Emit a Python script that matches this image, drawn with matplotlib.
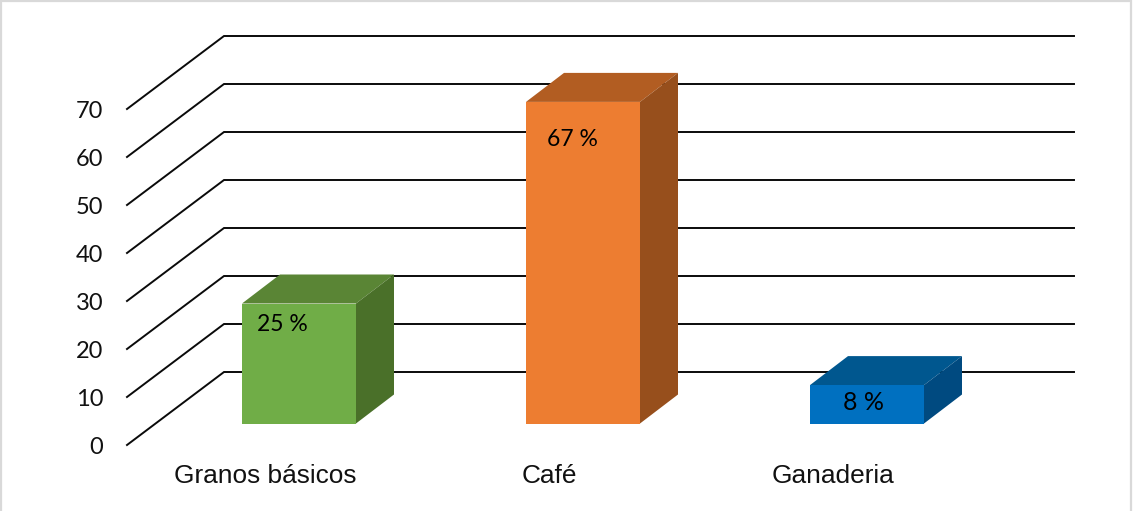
import matplotlib
matplotlib.use('Agg')
import matplotlib.pyplot as plt
from matplotlib.patches import Polygon, Rectangle

# datos
categorias = ['Granos básicos', 'Café', 'Ganaderia']
valores = [25, 67, 8]
etiquetas = ['25 %', '67 %', '8 %']
niveles = [0, 10, 20, 30, 40, 50, 60, 70]

color_frente = ['#70AD47', '#ED7D31', '#0070C0']
color_arriba = ['#5A8535', '#B25D22', '#00578F']
color_lado = ['#4A7029', '#974F1C', '#004A80']

W, H = 1133, 511
fig = plt.figure(figsize=(W / 100, H / 100), dpi=100)

# escala en pixeles de la imagen
x0, x1 = 127, 1074
y0, y_top = 445, 36
px_x = 284        # pixeles por categoria
px_y = 4.8        # pixeles por unidad
cx0 = 299         # centro de la primera barra

ax = fig.add_axes([x0 / W, 1 - y0 / H, (x1 - x0) / W, (y0 - y_top) / H])
ax.set_xlim((x0 - cx0) / px_x, (x1 - cx0) / px_x)
ax.set_ylim(0, (y0 - y_top) / px_y)
for s in ax.spines.values():
    s.set_visible(False)


# desplazamiento oblicuo en pixeles -> datos
def obl(x, v, dx=0, dy=0):
    return x + dx / px_x, v + dy / px_y


# paredes: lineas de nivel
for n in niveles:
    a = obl(ax.get_xlim()[0], n)
    b = obl(ax.get_xlim()[0], n, 97, 73)
    c = (ax.get_xlim()[1], b[1])
    ax.plot([a[0], b[0], c[0]], [a[1], b[1], c[1]], color='#0A0A0A', lw=1.4,
            clip_on=False, zorder=1, solid_joinstyle='miter')

# barras 3D
ancho = 114 / px_x
base = 21.5 / px_y   # la barra no nace en la arista frontal
fondo_x, fondo_y = 38, 29
for i, v in enumerate(valores):
    l, r = i - ancho / 2, i + ancho / 2
    b, t = base, base + v
    ax.add_patch(Polygon([(l, t), (r, t), obl(r, t, fondo_x, fondo_y), obl(l, t, fondo_x, fondo_y)],
                         facecolor=color_arriba[i], edgecolor='none', zorder=2))
    ax.add_patch(Polygon([(r, b), obl(r, b, fondo_x, fondo_y), obl(r, t, fondo_x, fondo_y), (r, t)],
                         facecolor=color_lado[i], edgecolor='none', zorder=2))
    ax.bar(i, v, width=ancho, bottom=base, color=color_frente[i], zorder=3)

# etiquetas de datos
pos_et = [(-17, -21), (-10.5, -38), (-3.5, -17)]
tam_et = [16.5, 16.5, 18]
for i, v in enumerate(valores):
    x, y = obl(i, base + v, *pos_et[i])
    ax.text(x, y, etiquetas[i], ha='center', va='center', fontsize=tam_et[i],
            family='Lato', color='black', zorder=4)

# ejes
ax.set_yticks(niveles)
ax.set_yticklabels(niveles, family='Lato', fontsize=17, color='#111111')
ax.tick_params(axis='y', length=0, pad=17)
ax.set_xticks([i - 34 / px_x for i in range(len(categorias))])
ax.set_xticklabels(categorias, family='Liberation Sans', fontsize=18.9, color='#111111')
ax.tick_params(axis='x', length=0, pad=14)

# borde de la imagen (sin linea abajo)
fig.add_artist(Rectangle((1 / W, -3 / H), (W - 3) / W, 1 + 2 / H, transform=fig.transFigure,
                         fill=False, edgecolor='#D9D9D9', lw=1.6))

fig.savefig('out.png', dpi=100)
